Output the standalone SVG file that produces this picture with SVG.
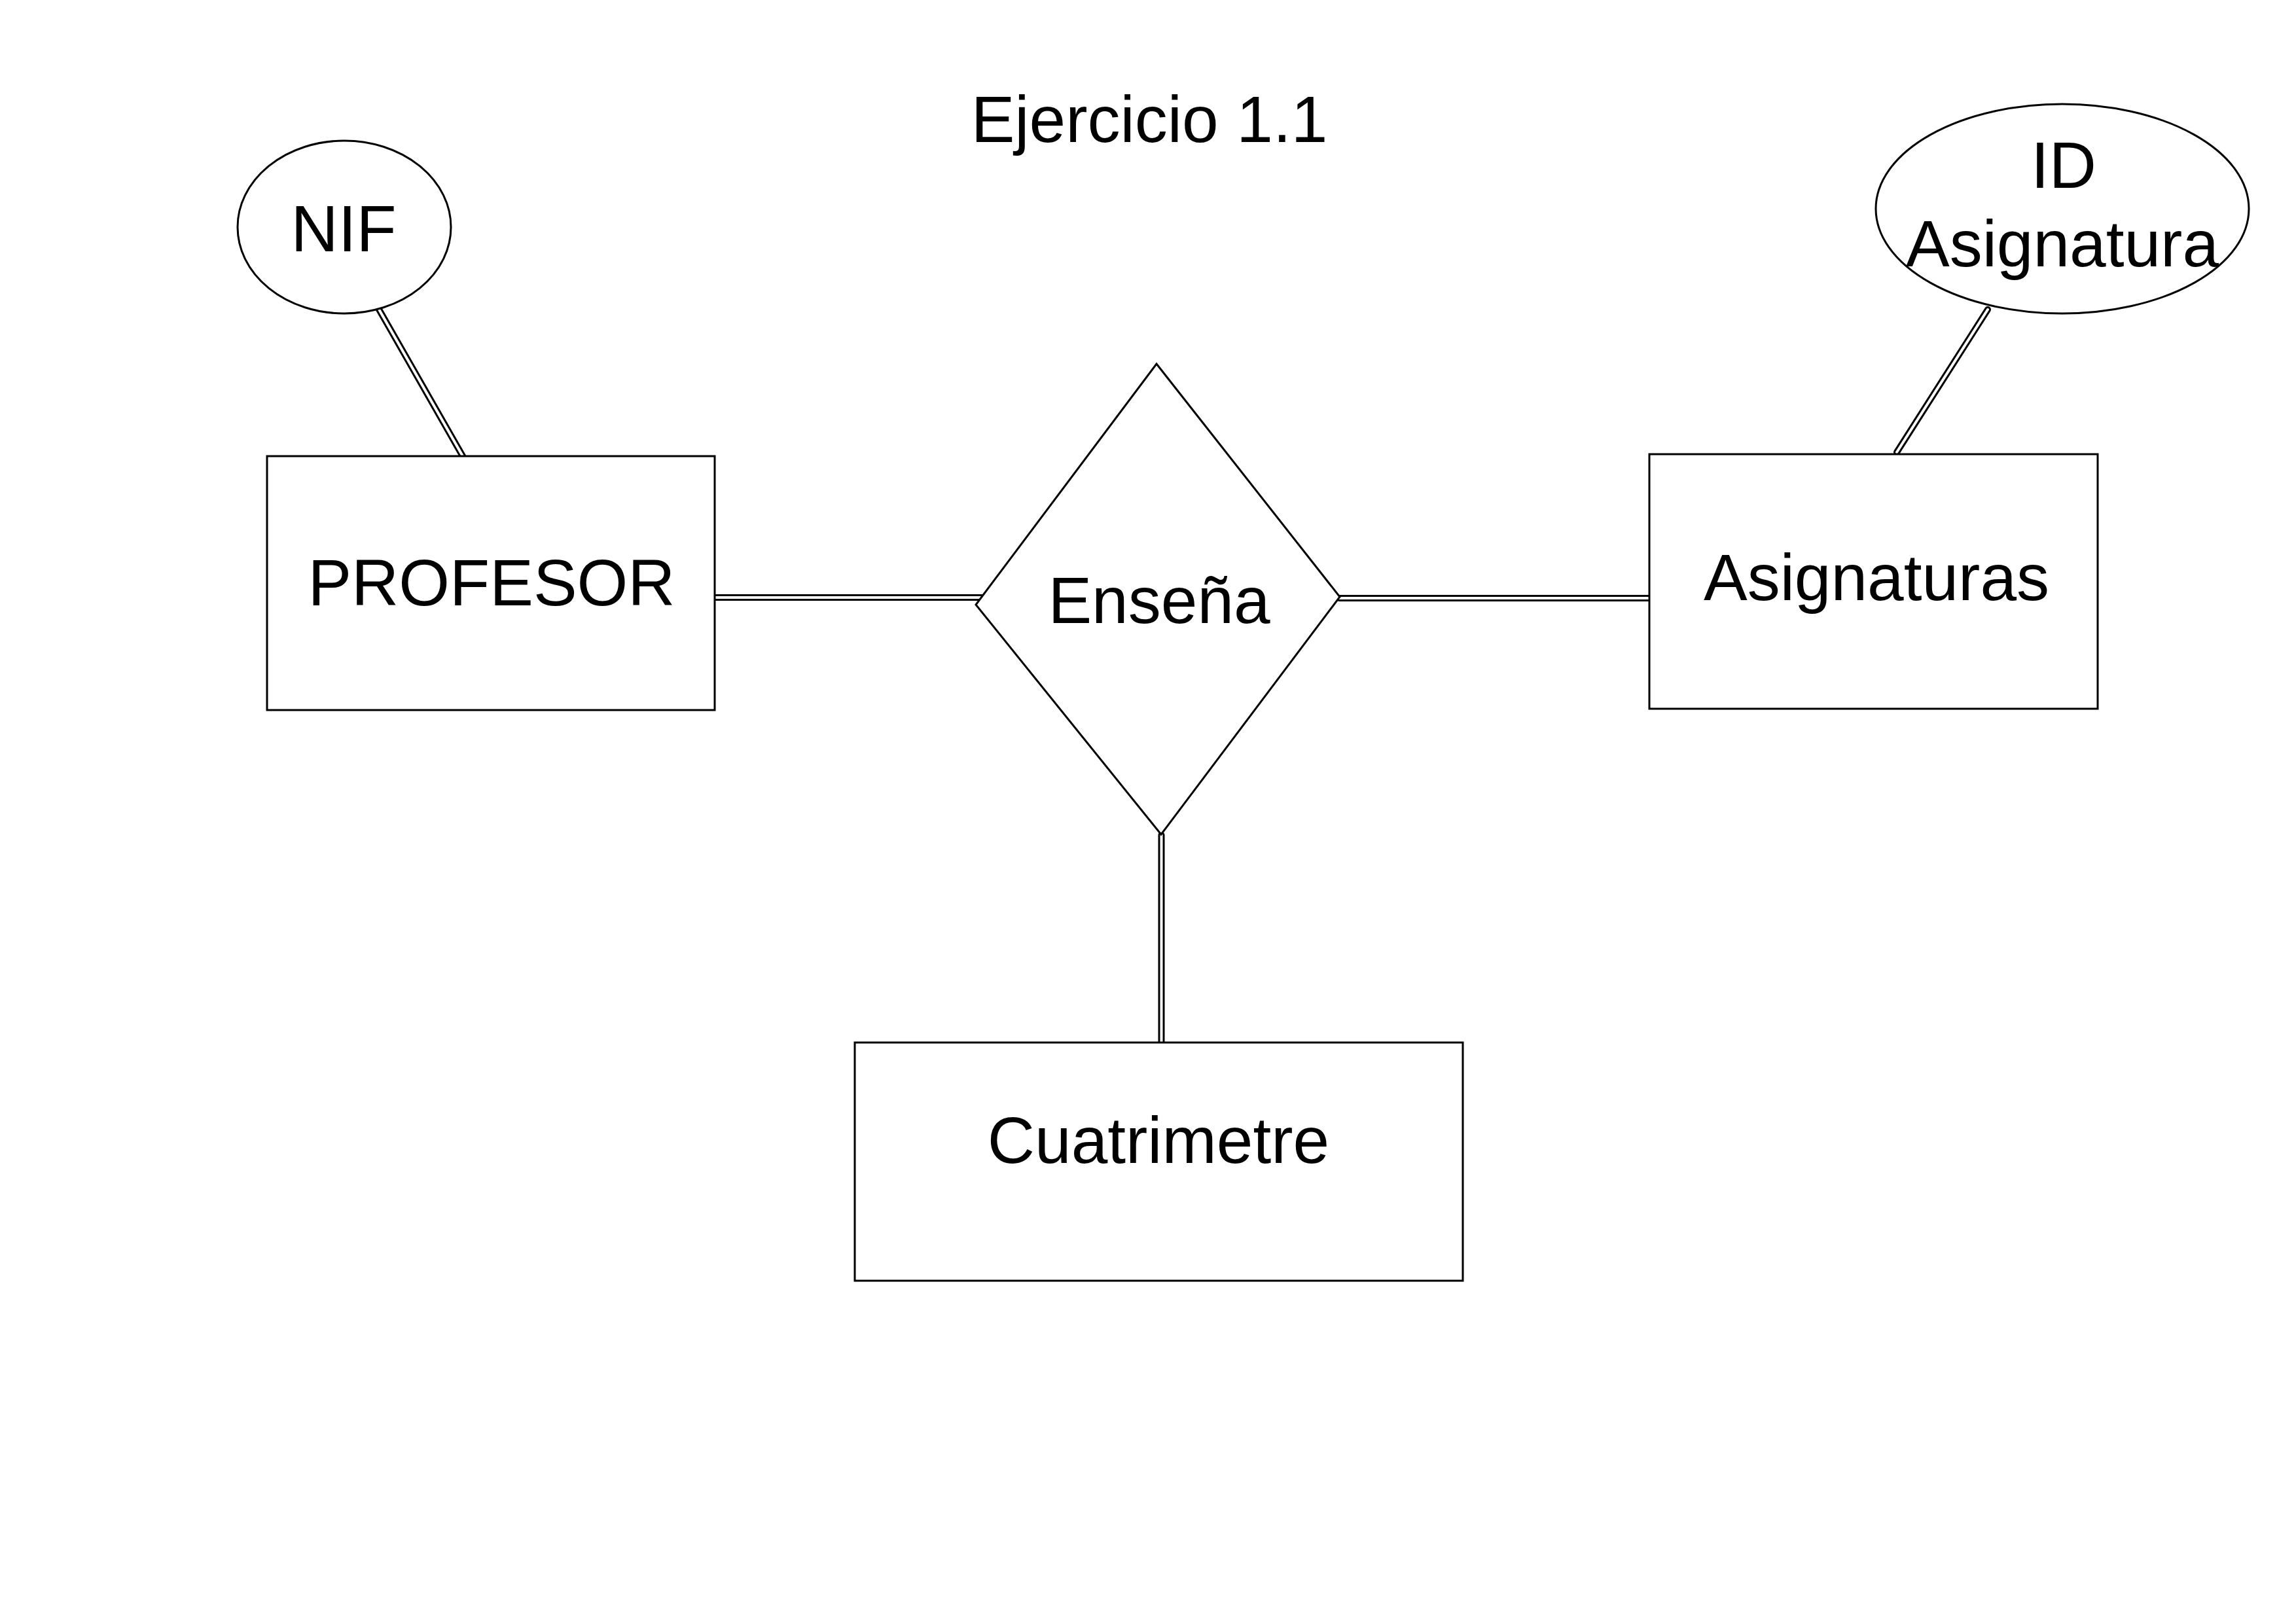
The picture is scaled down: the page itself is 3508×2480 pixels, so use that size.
<svg xmlns="http://www.w3.org/2000/svg" width="3508" height="2480" viewBox="0 0 3508 2480">
<style>
.shape{fill:#fff;stroke:#000;stroke-width:3;stroke-linejoin:miter}
.lbl{font-family:"Liberation Sans",Arial,sans-serif;font-size:100px;fill:#000;text-anchor:middle}
.outer{stroke:#000;stroke-width:10;fill:none;stroke-linecap:round}
.inner{stroke:#fff;stroke-width:4;fill:none;stroke-linecap:round}
</style>
<rect width="3508" height="2480" fill="#fff"/>
<text id="title" class="lbl" x="1756" y="217">Ejercicio 1.1</text>
<g id="connectors">
  <g id="c-nif">
    <line class="outer" x1="578" y1="471" x2="707" y2="697"/>
    <line class="inner" x1="578" y1="471" x2="707" y2="697"/>
  </g>
  <g id="c-id">
    <line class="outer" x1="3037" y1="473" x2="2898" y2="691"/>
    <line class="inner" x1="3037" y1="473" x2="2898" y2="691"/>
  </g>
  <g id="c-prof">
    <line class="outer" x1="1090" y1="913" x2="1500" y2="913"/>
    <line class="inner" x1="1090" y1="913" x2="1500" y2="913"/>
  </g>
  <g id="c-asig">
    <line class="outer" x1="2046" y1="914" x2="2523" y2="914"/>
    <line class="inner" x1="2046" y1="914" x2="2523" y2="914"/>
  </g>
  <g id="c-cuat">
    <line class="outer" x1="1774.5" y1="1276" x2="1774.5" y2="1593"/>
    <line class="inner" x1="1774.5" y1="1276" x2="1774.5" y2="1593"/>
  </g>
</g>
<g id="nif">
  <ellipse class="shape" cx="526" cy="347" rx="163" ry="132"/>
  <text class="lbl" x="525" y="384">NIF</text>
</g>
<g id="idasig">
  <ellipse class="shape" cx="3151" cy="319" rx="285" ry="160"/>
  <text class="lbl" x="3153" y="287">ID</text>
  <text class="lbl" x="3151" y="407">Asignatura</text>
</g>
<g id="profesor">
  <rect class="shape" x="408" y="697" width="684" height="388"/>
  <text class="lbl" x="751" y="925">PROFESOR</text>
</g>
<g id="asignaturas">
  <rect class="shape" x="2520" y="694" width="685" height="389"/>
  <text class="lbl" x="2867" y="917">Asignaturas</text>
</g>
<g id="ensena">
  <polygon class="shape" points="1767,556 2047,912 1774,1275 1491,924"/>
  <text class="lbl" x="1771" y="952">Enseña</text>
</g>
<g id="cuatrimetre">
  <rect class="shape" x="1306" y="1593" width="929" height="364"/>
  <text class="lbl" x="1770" y="1777">Cuatrimetre</text>
</g>
</svg>
